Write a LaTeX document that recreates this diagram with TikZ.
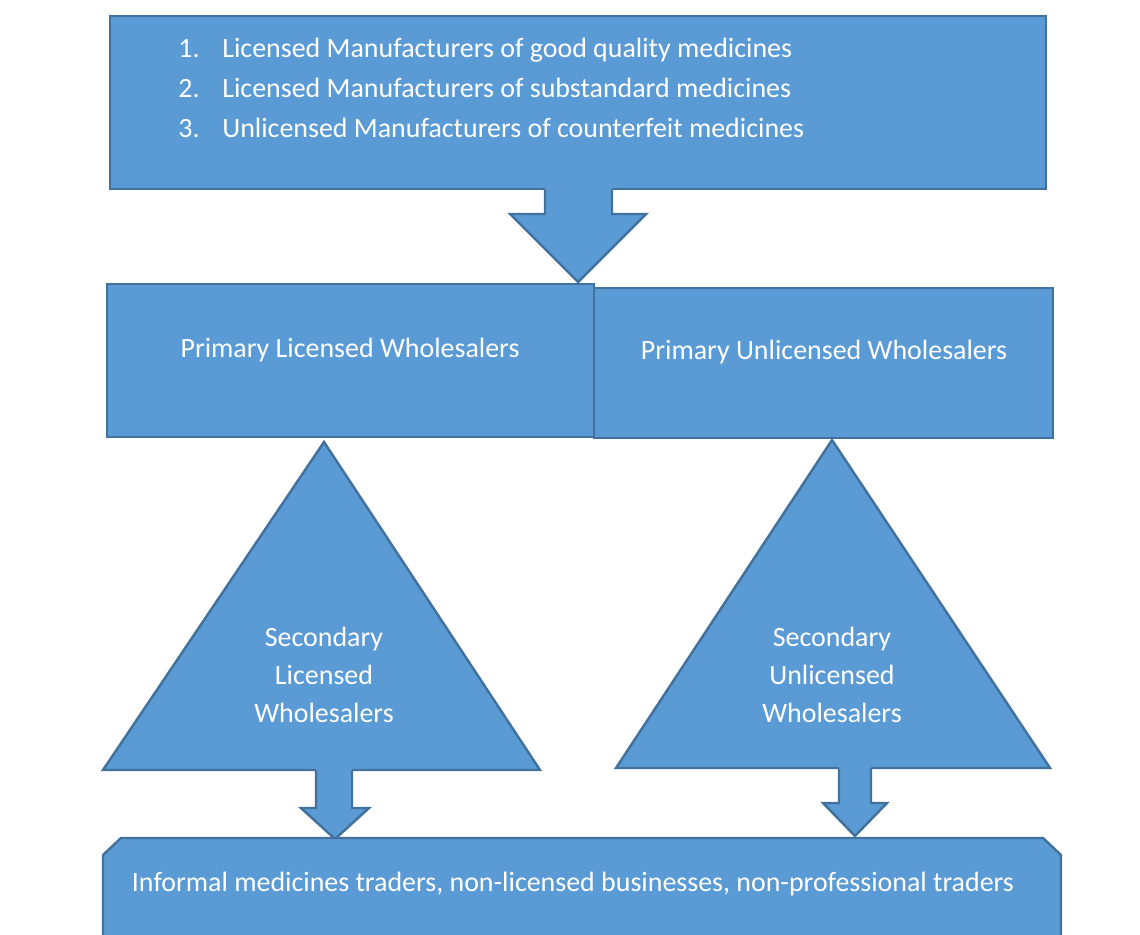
\documentclass[tikz,border=0pt]{standalone}
\usepackage{fontspec}
\setmainfont{Carlito}
\definecolor{boxfill}{HTML}{5B9BD5}
\definecolor{boxline}{HTML}{41719C}
\tikzset{
  shapebox/.style={fill=boxfill, draw=boxline, line width=1.4pt, line join=miter},
  arrowline/.style={draw=boxline, line width=1.4pt, line join=miter},
  label/.style={text=white, font=\fontsize{15.9}{19}\selectfont, inner sep=0pt, align=center},
  listlabel/.style={text=white, font=\fontsize{15.9}{19}\selectfont, inner sep=0pt, anchor=base west}
}
\begin{document}
\begin{tikzpicture}[x=0.02cm,y=-0.02cm]
\useasboundingbox (0,0) rectangle (1140,934);
% top box
\draw[shapebox] (110,16) rectangle (1046,189);
\node[listlabel] (n1) at (178,57) {1.};
\node[listlabel] (t1) at (222,57) {Licensed Manufacturers of good quality medicines};
\node[listlabel] (n2) at (178,97) {2.};
\node[listlabel] (t2) at (222,97) {Licensed Manufacturers of substandard medicines};
\node[listlabel] (n3) at (178,137) {3.};
\node[listlabel] (t3) at (222,137) {Unlicensed Manufacturers of counterfeit medicines};
% top block arrow
\fill[boxfill] (545,187) -- (545,214) -- (510,214) -- (578,282) -- (646,214) -- (612,214) -- (612,187) -- cycle;
\draw[arrowline] (545,189.7) -- (545,214) -- (510,214) -- (578,282) -- (646,214) -- (612,214) -- (612,189.7);
% primary boxes
\draw[shapebox] (594,288) rectangle (1053,438);
\draw[shapebox] (107,284) rectangle (594,437);
\node[label] (plw) at (350,350) {Primary Licensed Wholesalers};
\node[label] (puw) at (824,352) {Primary Unlicensed Wholesalers};
% triangles
\draw[shapebox] (324,442) -- (540,770) -- (103,770) -- cycle;
\draw[shapebox] (832,440) -- (1050,768) -- (616,768) -- cycle;
\node[label, font=\fontsize{15.9}{21.5}\selectfont] (slw) at (324,675) {Secondary\\Licensed\\Wholesalers};
\node[label, font=\fontsize{15.9}{21.5}\selectfont] (suw) at (832,675) {Secondary\\Unlicensed\\Wholesalers};
% small block arrow (left)
\fill[boxfill] (316,768) -- (316,808) -- (301,808) -- (335,839) -- (369,808) -- (352,808) -- (352,768) -- cycle;
\draw[arrowline] (316,770.7) -- (316,808) -- (301,808) -- (335,839) -- (369,808) -- (352,808) -- (352,770.7);
% bottom box
\draw[shapebox] (103,940) -- (103,855) -- (121,838) -- (1043,838) -- (1061,855) -- (1061,940);
% small block arrow (right)
\fill[boxfill] (839,766) -- (839,803) -- (823,803) -- (855,836) -- (887,803) -- (871,803) -- (871,766) -- cycle;
\draw[arrowline] (839,768.7) -- (839,803) -- (823,803) -- (855,836) -- (887,803) -- (871,803) -- (871,768.7);
\node[label] (inf) at (573,884) {Informal medicines traders, non-licensed businesses, non-professional traders};
\end{tikzpicture}
\end{document}
